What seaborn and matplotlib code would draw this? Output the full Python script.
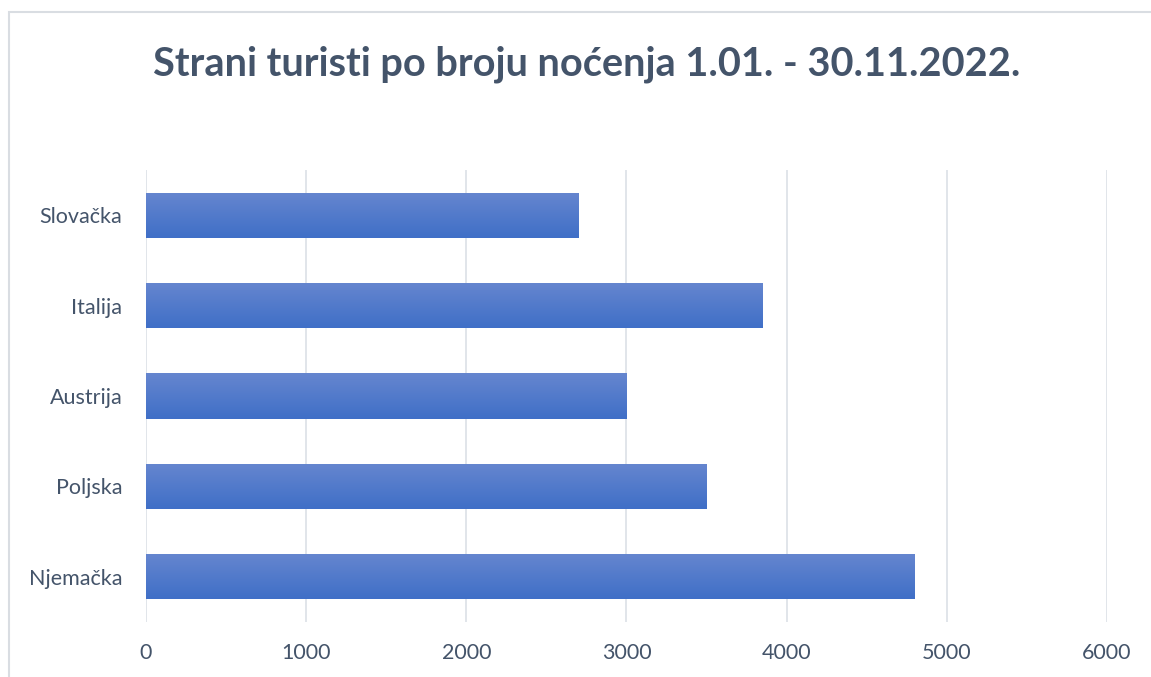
import matplotlib
matplotlib.use("Agg")
import matplotlib.pyplot as plt
import seaborn as sns
import numpy as np
import pandas as pd
from matplotlib.colors import LinearSegmentedColormap
from matplotlib.patches import Rectangle

countries = ["Slovačka", "Italija", "Austrija", "Poljska", "Njemačka"]
nocenja = [2700, 3850, 3000, 3500, 4800]
xticks = [0, 1000, 2000, 3000, 4000, 5000, 6000]
title = "Strani turisti po broju noćenja 1.01. - 30.11.2022."

sns.set_theme(style="white")
plt.rcParams['font.family'] = ['Lato', 'DejaVu Sans']

df = pd.DataFrame({"country": countries, "value": nocenja})

fig = plt.figure(figsize=(11.51, 6.77), dpi=100)
ax = fig.add_axes([0.1268, 0.0812, 0.835, 0.6677])

sns.barplot(data=df, y="country", x="value", orient="h", width=0.5,
            color="#4A76C8", ax=ax, order=countries, zorder=3)

cmap = LinearSegmentedColormap.from_list("g", ["#6686CF", "#3F6FC7"])
grad = np.linspace(0, 1, 256).reshape(-1, 1)
for p in ax.patches:
    x0, y0 = p.get_x(), p.get_y()
    w, h = p.get_width(), p.get_height()
    im = ax.imshow(grad, cmap=cmap, aspect="auto",
                   extent=(x0, x0 + w, y0 + h, y0), origin="upper",
                   zorder=3, interpolation="bicubic")
    im.set_clip_path(p)
    p.set_facecolor("none")
    p.set_edgecolor("none")

ax.set_xlim(0, 6000)
ax.set_ylim(4.5, -0.5)
ax.set_xticks(xticks)
ax.set_xticklabels([str(t) for t in xticks])
ax.grid(axis="x", color="#E1E5EA", linewidth=1.4, zorder=0)
ax.grid(axis="y", visible=False)
for s in ax.spines.values():
    s.set_visible(False)
ax.tick_params(axis="both", length=0, labelsize=15.5, colors="#44546A")
ax.tick_params(axis="y", pad=17)
ax.tick_params(axis="x", pad=15)
ax.set_xlabel("")
ax.set_ylabel("")

fig.text(0.5096, 0.905, title, ha="center", va="center", fontsize=28.6,
         fontweight="bold", color="#44546A")

fig.patches.append(Rectangle((9 / 1151, 1 - 900 / 677), 1.5, 1 - 12 / 677 - (1 - 900 / 677),
                             transform=fig.transFigure, fill=False,
                             edgecolor="#D9DDE2", linewidth=1.5))

fig.savefig("out.png", dpi=100)
